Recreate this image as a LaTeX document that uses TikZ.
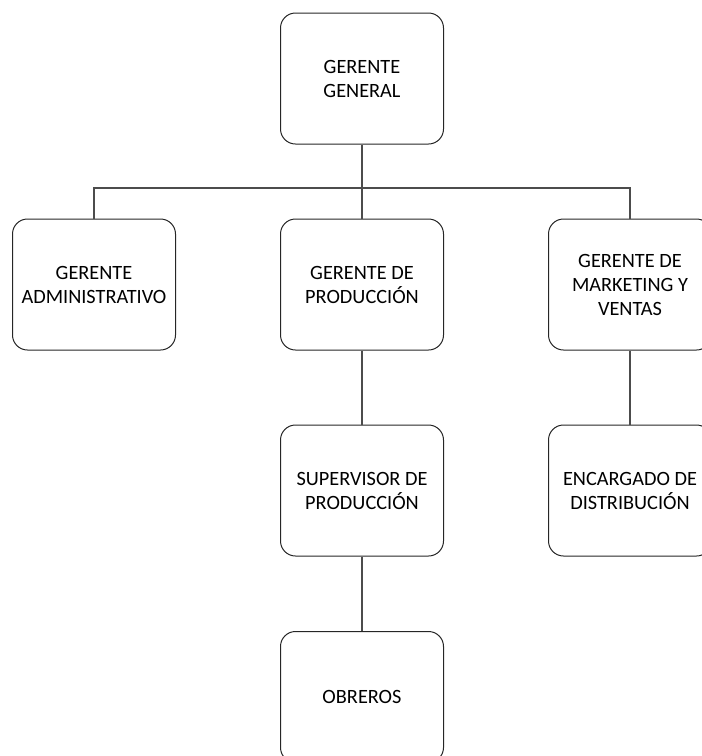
\documentclass[tikz,border=0pt]{standalone}
\usepackage{fontspec}
\setmainfont{Carlito}
\begin{document}
\begin{tikzpicture}[x=1pt,y=-1pt,
  orgbox/.style={draw=black!85, line width=1pt, rounded corners=15pt, minimum width=163pt, minimum height=131pt, align=center, inner sep=0pt, font=\fontsize{20.3}{24}\selectfont},
  link/.style={draw=black!70, line width=1.1pt}]
\useasboundingbox (0,0) rectangle (702,756);
\clip (0,0) rectangle (702,756);
\node[orgbox] (gg) at (362,78.5) {GERENTE\\GENERAL};
\node[orgbox] (ga) at (94,284.5) {GERENTE\\ADMINISTRATIVO};
\node[orgbox] (gp) at (362,284.5) {GERENTE DE\\PRODUCCIÓN};
\node[orgbox] (gm) at (630,284.5) {GERENTE DE\\MARKETING Y\\VENTAS};
\node[orgbox] (sp) at (362,490.5) {SUPERVISOR DE\\PRODUCCIÓN};
\node[orgbox] (ed) at (630,490.5) {ENCARGADO DE\\DISTRIBUCIÓN};
\node[orgbox] (ob) at (362,697) {OBREROS};
\coordinate (bar) at (362,188);
\draw[link] (gg.south) -- (gp.north);
\draw[link] (ga.north) |- (bar) -| (gm.north);
\draw[link] (gp.south) -- (sp.north);
\draw[link] (sp.south) -- (ob.north);
\draw[link] (gm.south) -- (ed.north);
\end{tikzpicture}
\end{document}
